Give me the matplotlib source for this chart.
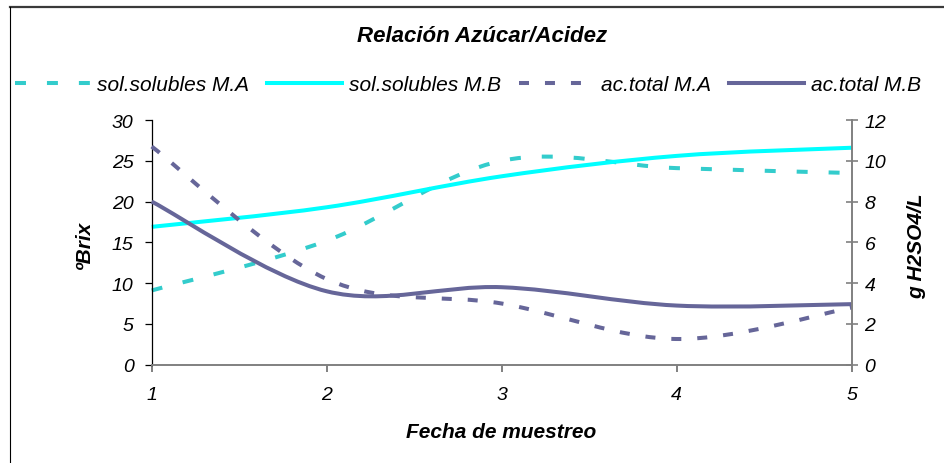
import numpy as np
import matplotlib
matplotlib.use("Agg")
import matplotlib.pyplot as plt
from matplotlib.path import Path
from matplotlib.patches import PathPatch
from matplotlib.lines import Line2D

plt.rcParams['font.family'] = ['Liberation Sans', 'DejaVu Sans']
plt.rcParams['lines.scale_dashes'] = False

# sampling dates and measurements
fechas = [1, 2, 3, 4, 5]
sol_ma = [9.1, 15.2, 25.0, 24.1, 23.5]    # ºBrix
sol_mb = [16.9, 19.3, 23.1, 25.6, 26.6]   # ºBrix
ac_ma = [10.7, 4.2, 3.0, 1.26, 2.8]       # g H2SO4/L
ac_mb = [8.0, 3.6, 3.8, 2.9, 2.97]        # g H2SO4/L

left_ticks = [0, 5, 10, 15, 20, 25, 30]
right_ticks = [0, 2, 4, 6, 8, 10, 12]

C_TEAL = '#33CCCC'
C_CYAN = '#00FFFF'
C_PURP = '#666699'
LW = 2.9
DASH_TEAL = (0, (7.9, 15.1))
DASH_PURP = (0, (7.2, 11.5))


def smooth_path(xs, ys):
    # Bezier smoothing through the points (Catmull-Rom style control points)
    pts = np.column_stack([xs, ys]).astype(float)
    ext = np.vstack([pts[0], pts, pts[-1]])
    verts = [pts[0]]
    codes = [Path.MOVETO]
    for i in range(len(pts) - 1):
        p0, p1, p2, p3 = ext[i], ext[i + 1], ext[i + 2], ext[i + 3]
        verts += [p1 + (p2 - p0) / 6.0, p2 - (p3 - p1) / 6.0, p2]
        codes += [Path.CURVE4] * 3
    return Path(verts, codes)


def draw(ax, xs, ys, color, ls):
    patch = PathPatch(smooth_path(xs, ys), fill=False, edgecolor=color,
                      linewidth=LW, linestyle=ls, capstyle='butt',
                      joinstyle='round', clip_on=False)
    ax.add_patch(patch)


W, H = 944, 464
fig = plt.figure(figsize=(W / 100, H / 100), dpi=100)

# chart frame (top and left edges)
fig.add_artist(Line2D([10 / W, 1.0], [1 - 7.5 / H, 1 - 7.5 / H],
                      transform=fig.transFigure, color='#3a3a3a', lw=1.6))
fig.add_artist(Line2D([10 / W, 10 / W], [0, 1 - 7.5 / H],
                      transform=fig.transFigure, color='black', lw=0.8))

ax = fig.add_axes([151.7 / W, 1 - 365.7 / H, 700 / W, 244.7 / H])
ax2 = ax.twinx()

ax.set_xlim(1, 5)
ax.set_ylim(0, 30)
ax2.set_ylim(0, 12)

draw(ax, fechas, sol_ma, C_TEAL, DASH_TEAL)
draw(ax, fechas, sol_mb, C_CYAN, '-')
draw(ax2, fechas, ac_ma, C_PURP, DASH_PURP)
draw(ax2, fechas, ac_mb, C_PURP, '-')

for a in (ax, ax2):
    a.spines['top'].set_visible(False)
    a.set_facecolor('none')

ax.spines['right'].set_visible(False)
ax.spines['left'].set_color('black')
ax.spines['left'].set_linewidth(0.9)
ax.spines['bottom'].set_color('#808080')
ax.spines['bottom'].set_linewidth(1.4)
ax2.spines['left'].set_visible(False)
ax2.spines['bottom'].set_visible(False)
ax2.spines['right'].set_color('#808080')
ax2.spines['right'].set_linewidth(1.4)

tick_font = dict(fontsize=14, fontstyle='italic')
ax.set_xticks(fechas)
ax.set_xticklabels([str(f) for f in fechas], **tick_font)
ax.set_yticks(left_ticks)
ax.set_yticklabels([str(t) for t in left_ticks], **tick_font)
ax2.set_yticks(right_ticks)
ax2.set_yticklabels([str(t) for t in right_ticks], **tick_font)

ax.tick_params(axis='y', direction='out', length=5, width=0.9,
               color='black', pad=8)
ax.tick_params(axis='x', direction='out', length=5, width=1.4,
               color='#808080', pad=10.5)
ax2.tick_params(axis='y', direction='inout', length=8.5, width=1.2,
                color='#808080', pad=5)

lab_font = dict(fontsize=15, fontweight='bold', fontstyle='italic')
fig.text(84 / W, 1 - 245 / H, 'ºBrix', rotation=90,
         ha='center', va='center', **lab_font)
fig.text(917 / W, 1 - 246 / H, 'g H2SO4/L', rotation=90,
         ha='center', va='center', **lab_font)
fig.text(501 / W, 1 - 433 / H, 'Fecha de muestreo',
         ha='center', va='center', **lab_font)
fig.text(482 / W, 1 - 37 / H, 'Relación Azúcar/Acidez',
         ha='center', va='center', fontsize=16, fontweight='bold',
         fontstyle='italic')

handles = [
    Line2D([], [], color=C_TEAL, lw=LW, linestyle=DASH_TEAL,
           dash_capstyle='butt'),
    Line2D([], [], color=C_CYAN, lw=LW),
    Line2D([], [], color=C_PURP, lw=LW, linestyle=DASH_PURP,
           dash_capstyle='butt'),
    Line2D([], [], color=C_PURP, lw=LW),
]
labels = ['sol.solubles M.A', 'sol.solubles M.B',
          'ac.total M.A', 'ac.total M.B']
fig.legend(handles, labels, loc='center left',
           bbox_to_anchor=(15 / W, 1 - 86 / H), ncol=4, frameon=False,
           prop=dict(size=15, style='italic'), handlelength=3.6,
           handletextpad=0.35, columnspacing=0.85, borderaxespad=0,
           borderpad=0)

fig.savefig('out.png', dpi=100)
